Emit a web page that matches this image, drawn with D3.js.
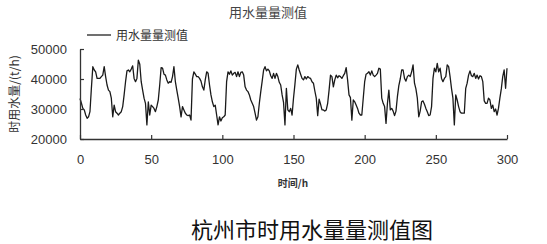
<!DOCTYPE html>
<html>
<head>
<meta charset="utf-8">
<script src="https://cdn.jsdelivr.net/npm/d3@7"></script>
<style>
  html, body { margin: 0; padding: 0; background: #fff; }
  svg { display: block; }
</style>
</head>
<body>
<svg id="chart" width="547" height="244"></svg>
<script>
// ---- data ----
const chartTitle = "用水量量测值";
const seriesName = "用水量量测值";
const xLabel = "时间/h";
const yLabel = "时用水量/(t/h)";
const caption = "杭州市时用水量量测值图";
const xTicks = [0, 50, 100, 150, 200, 250, 300];
const yTicks = [20000, 30000, 40000, 50000];
// hourly measured water consumption (t/h), hour 0..300
const waterUse = [
  33500, 31900, 30200, 29700, 28000, 26900, 27400, 29100, 36900, 44100,
  43000, 42400, 40200, 40200, 40200, 40800, 41300, 44100, 40800, 38000,
  36300, 35800, 33600, 27400, 31300, 29100, 28600, 28000, 28600, 29100,
  30800, 34700, 39100, 42700, 43000, 42400, 43300, 44400, 40200, 39100,
  40200, 46300, 44900, 39100, 36300, 33600, 31900, 24700, 32400, 28000,
  31300, 30800, 30200, 29100, 30800, 33000, 38000, 43800, 43600, 41600,
  41300, 39700, 38600, 39100, 38900, 40800, 44100, 39100, 36300, 33600,
  30800, 27400, 30800, 29700, 28600, 28000, 27800, 28000, 26300, 40000,
  42400, 41600, 40800, 40800, 40200, 39300, 37400, 36300, 39700, 42400,
  41900, 38000, 34700, 32400, 30800, 31300, 28000, 24700, 27400, 26000,
  27100, 27400, 28000, 39100, 42400, 41600, 42700, 41300, 41900, 42200,
  40800, 42400, 40800, 42200, 42400, 41300, 37400, 36300, 35800, 34700,
  33000, 31900, 30800, 28600, 26300, 27400, 31900, 35800, 39300, 43000,
  44100, 42700, 43300, 42700, 41100, 40200, 41900, 40200, 41900, 40800,
  38900, 38000, 34700, 32200, 24700, 36900, 29700, 29100, 30200, 28000,
  33600, 38200, 43300, 44700, 43000, 41600, 40200, 39700, 40800, 40000,
  40800, 40400, 40200, 39100, 38600, 36000, 33600, 27800, 33300, 31600,
  29700, 29700, 29300, 29700, 31900, 36300, 41300, 40800, 37400, 39700,
  41300, 40400, 41100, 40800, 40200, 41100, 41900, 43800, 39700, 34700,
  33800, 26300, 33000, 32400, 31300, 30200, 28600, 28000, 28000, 33600,
  39100, 41600, 41900, 42400, 41300, 42700, 41300, 40800, 41300, 41900,
  43600, 43300, 33600, 31900, 30800, 25200, 31900, 36300, 29700, 30200,
  29300, 27800, 29300, 34100, 37800, 40000, 43000, 43000, 40200, 39300,
  40800, 41300, 40800, 42400, 44700, 38600, 36700, 33600, 27400, 29300,
  32400, 32700, 31600, 30200, 29100, 27800, 28000, 30800, 40200, 43600,
  42400, 45200, 42400, 43600, 40200, 39100, 40200, 40800, 44700, 44100,
  40800, 36900, 33600, 24700, 34700, 33000, 30800, 29100, 28600, 28600,
  28600, 36900, 38600, 41300, 42700, 41100, 40800, 41900, 40200, 41300,
  40000, 41100, 40800, 39100, 32700, 31900, 31900, 33600, 33000, 30200,
  31300, 29100, 30000, 28000, 30200, 33600, 36700, 40800, 43000, 36900,
  43600
];

// ---- chart ----
const svg = d3.select("#chart");
const W = 547, H = 244;
const plot = { left: 80, right: 507, top: 49, bottom: 139 };

const x = d3.scaleLinear().domain([0, 300]).range([plot.left, plot.right]);
const y = d3.scaleLinear().domain([20000, 50000]).range([plot.bottom, plot.top]);

const axisColor = "#333";
const tickFont = "'Liberation Sans', Arial, sans-serif";
const cjkFont = "'Noto Sans CJK SC', 'Noto Sans', sans-serif";

// line
const line = d3.line()
  .x((d, i) => x(i))
  .y(d => y(d));

svg.append("path")
  .datum(waterUse)
  .attr("fill", "none")
  .attr("stroke", "#1a1a1a")
  .attr("stroke-width", 1.3)
  .attr("stroke-linejoin", "round")
  .attr("d", line);

// x axis
const xAxis = d3.axisBottom(x)
  .tickValues(xTicks)
  .tickFormat(d3.format("d"))
  .tickSizeInner(-4)
  .tickSizeOuter(0)
  .tickPadding(16);

const gx = svg.append("g")
  .attr("transform", `translate(0,${plot.bottom})`)
  .call(xAxis);
gx.select(".domain").attr("stroke", axisColor).attr("stroke-width", 1.3);
gx.selectAll(".tick line").attr("stroke", axisColor).attr("stroke-width", 1.2);
gx.selectAll(".tick text")
  .attr("fill", "#333")
  .style("font-family", tickFont)
  .style("font-size", "13px");

// y axis
const yAxis = d3.axisLeft(y)
  .tickValues(yTicks)
  .tickFormat(d3.format("d"))
  .tickSizeInner(-4)
  .tickSizeOuter(0)
  .tickPadding(13);

const gy = svg.append("g")
  .attr("transform", `translate(${plot.left},0)`)
  .call(yAxis);
gy.select(".domain").attr("stroke", axisColor).attr("stroke-width", 1.3);
gy.selectAll(".tick line").attr("stroke", axisColor).attr("stroke-width", 1.2);
gy.selectAll(".tick text")
  .attr("fill", "#333")
  .style("font-family", tickFont)
  .style("font-size", "13px");

// title
svg.append("text")
  .attr("x", 268)
  .attr("y", 17)
  .attr("text-anchor", "middle")
  .attr("fill", "#444")
  .style("font-family", cjkFont)
  .style("font-size", "13px")
  .text(chartTitle);

// legend
svg.append("line")
  .attr("x1", 87).attr("x2", 111)
  .attr("y1", 35).attr("y2", 35)
  .attr("stroke", "#222").attr("stroke-width", 1.3);
svg.append("text")
  .attr("x", 116)
  .attr("y", 39.5)
  .attr("fill", "#333")
  .style("font-family", cjkFont)
  .style("font-size", "12px")
  .text(seriesName);

// x label
svg.append("text")
  .attr("x", 293)
  .attr("y", 187)
  .attr("text-anchor", "middle")
  .attr("fill", "#333")
  .style("font-family", cjkFont)
  .style("font-size", "10px")
  .style("font-weight", "bold")
  .text(xLabel);

// y label
svg.append("text")
  .attr("transform", "translate(19,94) rotate(-90)")
  .attr("text-anchor", "middle")
  .attr("fill", "#333")
  .style("font-family", cjkFont)
  .style("font-size", "12px")
  .text(yLabel);

// caption
svg.append("text")
  .attr("x", 312)
  .attr("y", 238)
  .attr("text-anchor", "middle")
  .attr("fill", "#111")
  .style("font-family", cjkFont)
  .style("font-size", "22px")
  .text(caption);
</script>
</body>
</html>
